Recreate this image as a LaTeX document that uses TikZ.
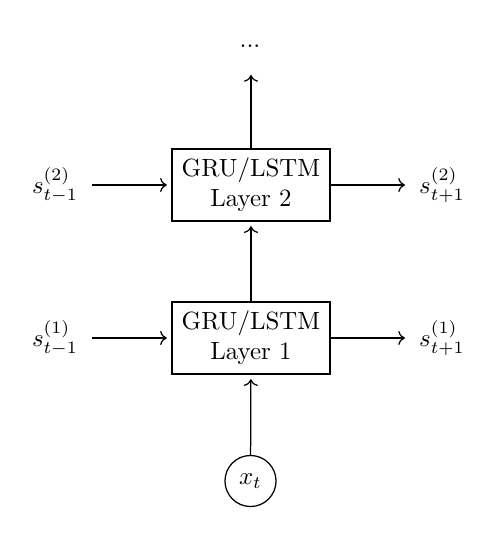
\documentclass[tikz,border=0pt]{standalone}
\usetikzlibrary{arrows.meta}
\begin{document}
\begin{tikzpicture}[x=0.4016pt,y=-0.4016pt,
  layerbox/.style={draw,line width=0.5pt,minimum width=158\pgflinewidth*0+63.5pt,minimum height=29pt,align=center,inner sep=2pt},
  statelbl/.style={inner sep=5.5pt},
  inputnode/.style={draw,circle,line width=0.5pt,minimum size=20.5pt,inner sep=0pt},
  conn/.style={->,line width=0.5pt,shorten >=1.8pt}]
\useasboundingbox (0,0) rectangle (500,534);
\node (dots) at (250,46) {...};
\node[layerbox] (L2) at (251,185) {GRU/LSTM\\Layer 2};
\node[layerbox] (L1) at (251,338) {GRU/LSTM\\Layer 1};
\node[inputnode] (x) at (250.5,481) {$x_t$};
\node[statelbl] (s2l) at (55,185) {$s^{(2)}_{t-1}$};
\node[statelbl] (s2r) at (442,185) {$s^{(2)}_{t+1}$};
\node[statelbl] (s1l) at (55,338) {$s^{(1)}_{t-1}$};
\node[statelbl] (s1r) at (442,338) {$s^{(1)}_{t+1}$};
\coordinate (topend) at (251,75);
\draw[conn] (x) -- (L1);
\draw[conn] (L1) -- (L2);
\draw[->,line width=0.5pt] (L2) -- (topend);
\draw[conn] (s2l) -- (L2);
\draw[conn] (s1l) -- (L1);
\draw[->,line width=0.5pt] (L2) -- (s2r);
\draw[->,line width=0.5pt] (L1) -- (s1r);
\end{tikzpicture}
\end{document}
